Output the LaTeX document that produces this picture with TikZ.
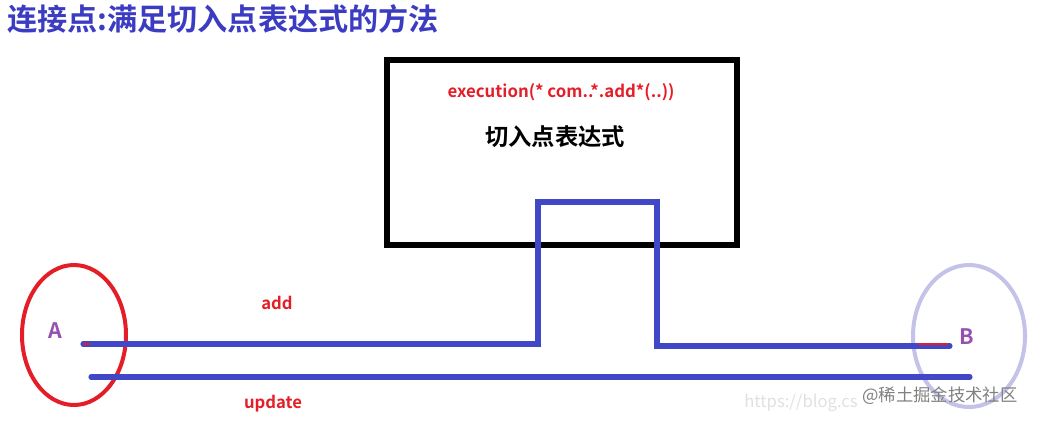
\documentclass[tikz,border=0pt]{standalone}
\usepackage{fontspec}
\usetikzlibrary{shapes.geometric}
\setmainfont{Noto Sans CJK SC}[BoldFont={* Bold}]
\newfontfamily\cjkb{Noto Sans CJK SC Bold}
\definecolor{tblue}{RGB}{60,60,195}
\definecolor{lblue}{RGB}{64,72,200}
\definecolor{lred}{RGB}{228,30,40}
\definecolor{lpurple}{RGB}{150,80,175}
\definecolor{lav}{RGB}{196,194,232}
\begin{document}
\begin{tikzpicture}[x=0.75pt,y=-0.75pt,
  wire/.style={draw=lblue,line width=3.8pt,line cap=round,line join=miter},
  lbl/.style={inner sep=0pt,font=\cjkb},
  ]
\useasboundingbox (0,0) rectangle (1038,421);
% title
\node[lbl,anchor=west,text=tblue,font=\cjkb\fontsize{22.6}{25}\selectfont] (title) at (7,19) {连接点:满足切入点表达式的方法};
% expression box
\node[draw=black,line width=4pt,minimum width=350*0.75pt,minimum height=185*0.75pt,inner sep=0pt] (box) at (562,152.5) {};
\node[lbl,text=lred,font=\cjkb\fontsize{12.6}{14}\selectfont] (expr) at (561,92) {execution(* com..*.add*(..))};
\node[lbl,text=black,font=\cjkb\fontsize{17.5}{20}\selectfont] (pc) at (555,137) {切入点表达式};
% ellipses
\node[draw=lred,line width=3pt,ellipse,minimum width=104*0.75pt,minimum height=140*0.75pt,inner sep=0pt] (ea) at (74,335) {};
\node[draw=lav,line width=3pt,ellipse,minimum width=112*0.75pt,minimum height=142*0.75pt,inner sep=0pt] (eb) at (969,336) {};
\node[lbl,text=lpurple,font=\cjkb\fontsize{16}{18}\selectfont] (A) at (55,331) {A};
\node[lbl,text=lpurple,font=\cjkb\fontsize{16}{18}\selectfont] (B) at (967,337) {B};
% path coordinates
\coordinate (a0) at (83,344);
\coordinate (a1) at (538,344);
\coordinate (a2) at (538,202);
\coordinate (a3) at (657,202);
\coordinate (a4) at (657,346);
\coordinate (a5) at (950,346);
\coordinate (u0) at (91,377);
\coordinate (u1) at (970,377);
\draw[wire] (a0) -- (a1) -- (a2) -- (a3) -- (a4) -- (a5);
\draw[wire] (u0) -- (u1);
\draw[draw=lred,line width=1.5pt] (83,344) -- (90,344);
\draw[draw=lred,line width=1.5pt] (918,343.5) -- (948,343.5);
% labels
\node[lbl,text=lred,font=\cjkb\fontsize{12.5}{14}\selectfont] (add) at (277,303) {add};
\node[lbl,text=lred,font=\cjkb\fontsize{12.5}{14}\selectfont] (upd) at (273,404) {update};
% watermark
\node[lbl,anchor=east,text=black!12,font=\fontsize{12.5}{14}\selectfont] (url) at (858,403) {https://blog.cs};
\node[lbl,anchor=west,text=black!50,font=\fontsize{13}{15}\selectfont] (wm) at (862,396) {@稀土掘金技术社区};
\end{tikzpicture}
\end{document}
